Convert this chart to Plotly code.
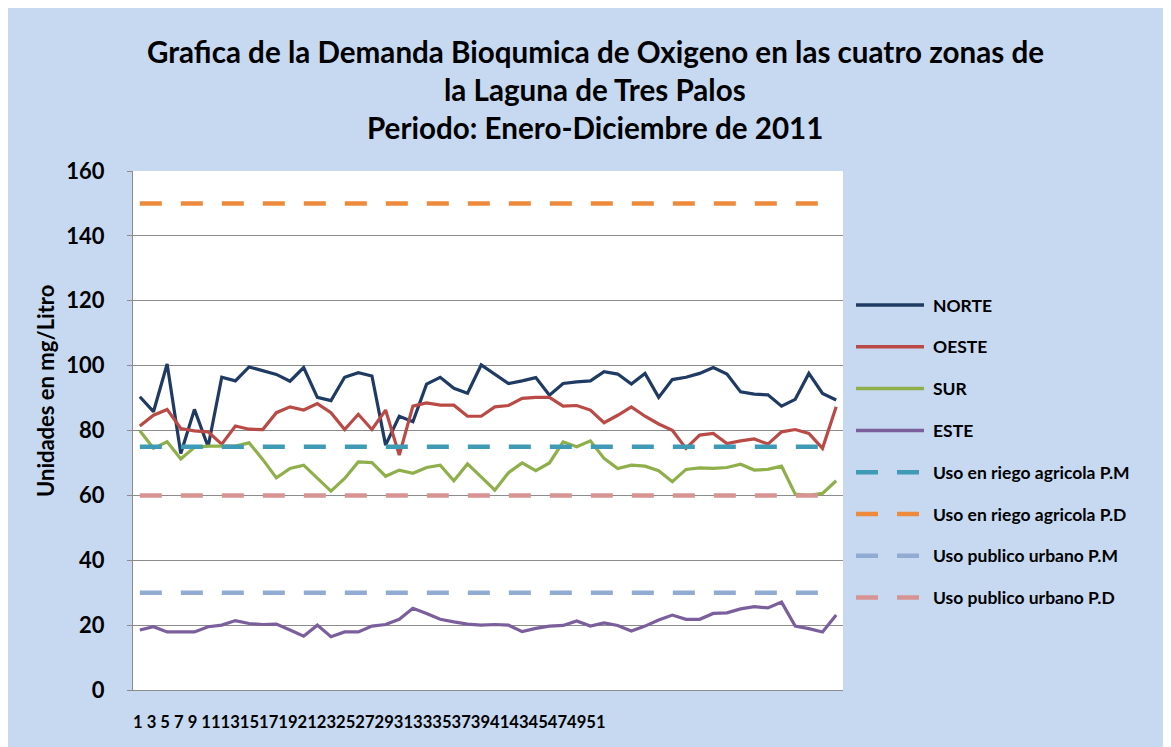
import plotly.graph_objects as go

weeks = list(range(1, 53))

norte = [90.4, 85.8, 100.5, 72.9, 86.5, 75.0, 96.4, 95.3, 99.6, 98.4,
         97.3, 95.2, 99.4, 90.2, 89.2, 96.4, 97.8, 96.8, 75.5, 84.4,
         82.7, 94.3, 96.4, 93.0, 91.5, 100.2, 97.4, 94.5, 95.3, 96.3,
         90.9, 94.5, 95.0, 95.3, 98.1, 97.4, 94.3, 97.6, 90.2, 95.7,
         96.4, 97.6, 99.4, 97.4, 91.9, 91.2, 91.0, 87.5, 89.6, 97.6,
         91.4, 89.4]
oeste = [81.4, 84.7, 86.5, 80.6, 79.9, 79.6, 75.8, 81.4, 80.4, 80.3,
         85.5, 87.3, 86.3, 88.3, 85.5, 80.3, 85.0, 80.3, 86.3, 72.4,
         87.5, 88.5, 87.8, 87.8, 84.4, 84.4, 87.3, 87.7, 89.9, 90.2,
         90.2, 87.5, 87.7, 86.3, 82.4, 84.7, 87.3, 84.4, 82.0, 80.1,
         74.5, 78.6, 79.1, 76.0, 76.8, 77.4, 75.8, 79.6, 80.3, 79.1,
         74.5, 87.3]
sur = [79.9, 74.5, 76.5, 71.2, 74.8, 75.2, 75.2, 75.2, 76.2, 71.1,
       65.4, 68.3, 69.3, 65.2, 61.3, 65.2, 70.3, 70.1, 65.9, 67.8,
       66.8, 68.6, 69.3, 64.5, 69.7, 65.7, 61.6, 67.0, 70.0, 67.6,
       70.0, 76.5, 75.0, 76.8, 71.4, 68.3, 69.3, 69.0, 67.6, 64.2,
       68.0, 68.5, 68.3, 68.6, 69.6, 67.8, 68.0, 69.0, 60.4, 60.0,
       60.6, 64.5]
este = [18.5, 19.5, 17.9, 17.9, 17.9, 19.5, 20.0, 21.4, 20.5, 20.2,
        20.3, 18.5, 16.6, 20.0, 16.4, 17.9, 17.9, 19.7, 20.2, 21.8,
        25.2, 23.6, 21.8, 21.0, 20.3, 20.0, 20.2, 20.0, 18.0, 19.0,
        19.7, 19.9, 21.3, 19.7, 20.7, 19.9, 18.2, 19.7, 21.6, 23.1,
        21.8, 21.8, 23.6, 23.8, 25.0, 25.7, 25.3, 27.1, 19.7, 18.9,
        17.9, 23.1]

series_names = ["NORTE", "OESTE", "SUR", "ESTE"]
series_values = [norte, oeste, sur, este]
series_colors = ["#1F3B63", "#BA4A46", "#8FAF4A", "#7B5F9C"]

limit_names = ["Uso en riego agricola P.M", "Uso en riego agricola P.D",
               "Uso publico urbano P.M", "Uso publico urbano P.D"]
limit_values = [75, 150, 30, 60]
limit_colors = ["#3F9AB5", "#EE8A3C", "#92ABD3", "#D79493"]

y_ticks = [0, 20, 40, 60, 80, 100, 120, 140, 160]
x_tick_labels = [str(w) for w in weeks if w % 2 == 1]

title_lines = ["Grafica de la Demanda Bioqumica de Oxigeno en las cuatro zonas de",
               "la Laguna de Tres Palos",
               "Periodo: Enero-Diciembre de 2011"]
y_title = "Unidades en mg/Litro"

OFF = 8  # page body margin
W, H = 1171 - OFF, 747 - OFF
# plot area in screen pixels
SL, SR, ST, SB = 133, 843, 171, 690
L, R, T, B = SL - OFF, SR - OFF, ST - OFF, SB - OFF
FONT = "Lato"
BG = "#C6D9F1"
GRID = "#8C8C8C"
DASH = "22px,19px"


def px_x(sx):
    return (sx - SL) / (SR - SL)


def px_y(sy):
    return (SB - sy) / (SB - ST)


fig = go.Figure()
for name, vals, col in zip(series_names, series_values, series_colors):
    fig.add_trace(go.Scatter(x=weeks, y=vals, mode="lines", name=name,
                             line=dict(color=col, width=3.2),
                             showlegend=False))
for name, val, col in zip(limit_names, limit_values, limit_colors):
    fig.add_trace(go.Scatter(x=weeks, y=[val] * len(weeks), mode="lines", name=name,
                             line=dict(color=col, width=4.5, dash=DASH),
                             showlegend=False))

shapes = []
annotations = []

# title
for i, line in enumerate(title_lines):
    annotations.append(dict(text="<b>%s</b>" % line, xref="paper", yref="paper",
                            x=px_x(595), y=px_y(52 + 38 * i), xanchor="center", yanchor="middle",
                            showarrow=False, font=dict(family=FONT, size=29.6, color="black")))

# y title
annotations.append(dict(text="<b>%s</b>" % y_title, xref="paper", yref="paper",
                        x=px_x(45), y=px_y(391), textangle=-90, xanchor="center", yanchor="middle",
                        showarrow=False, font=dict(family=FONT, size=22, color="black")))

# x tick labels (packed as in the reference)
packed = ""
for lab in x_tick_labels:
    packed += lab + (" " if len(lab) == 1 else "")
annotations.append(dict(text="<b>%s</b>" % packed, xref="paper", yref="paper",
                        x=px_x(131), y=px_y(722), xanchor="left", yanchor="middle",
                        showarrow=False, font=dict(family=FONT, size=16.6, color="black")))

# legend
legend_names = series_names + limit_names
legend_colors = series_colors + limit_colors
for k, (name, col) in enumerate(zip(legend_names, legend_colors)):
    yy = px_y(305 + 41.8 * k)
    dashed = k >= 4
    shapes.append(dict(type="line", xref="paper", yref="paper", x0=px_x(856), x1=px_x(924),
                       y0=yy, y1=yy,
                       line=dict(color=col, width=4.5 if dashed else 3.5,
                                 dash=DASH if dashed else "solid")))
    annotations.append(dict(text="<b>%s</b>" % name, xref="paper", yref="paper",
                            x=px_x(931), y=yy, xanchor="left", yanchor="middle",
                            showarrow=False, font=dict(family=FONT, size=17.5, color="black")))

fig.update_layout(
    width=W, height=H,
    margin=dict(l=L, r=W - R, t=T, b=H - B),
    paper_bgcolor=BG, plot_bgcolor="white",
    showlegend=False,
    shapes=shapes, annotations=annotations,
    font=dict(family=FONT, color="black"),
)
fig.update_xaxes(range=[0.5, 52.5], showgrid=False, showticklabels=False,
                 showline=True, linecolor=GRID, linewidth=1, zeroline=False, ticks="")
fig.update_yaxes(range=[0, 160], tickvals=y_ticks, ticktext=["<b>%d</b>" % v for v in y_ticks],
                 showgrid=True, gridcolor=GRID, gridwidth=1,
                 showline=True, linecolor=GRID, linewidth=1, zeroline=False,
                 ticks="outside", ticklen=5, tickcolor=GRID,
                 tickfont=dict(family=FONT, size=22, color="black"), ticklabelstandoff=18)

fig.write_html("out.html")
